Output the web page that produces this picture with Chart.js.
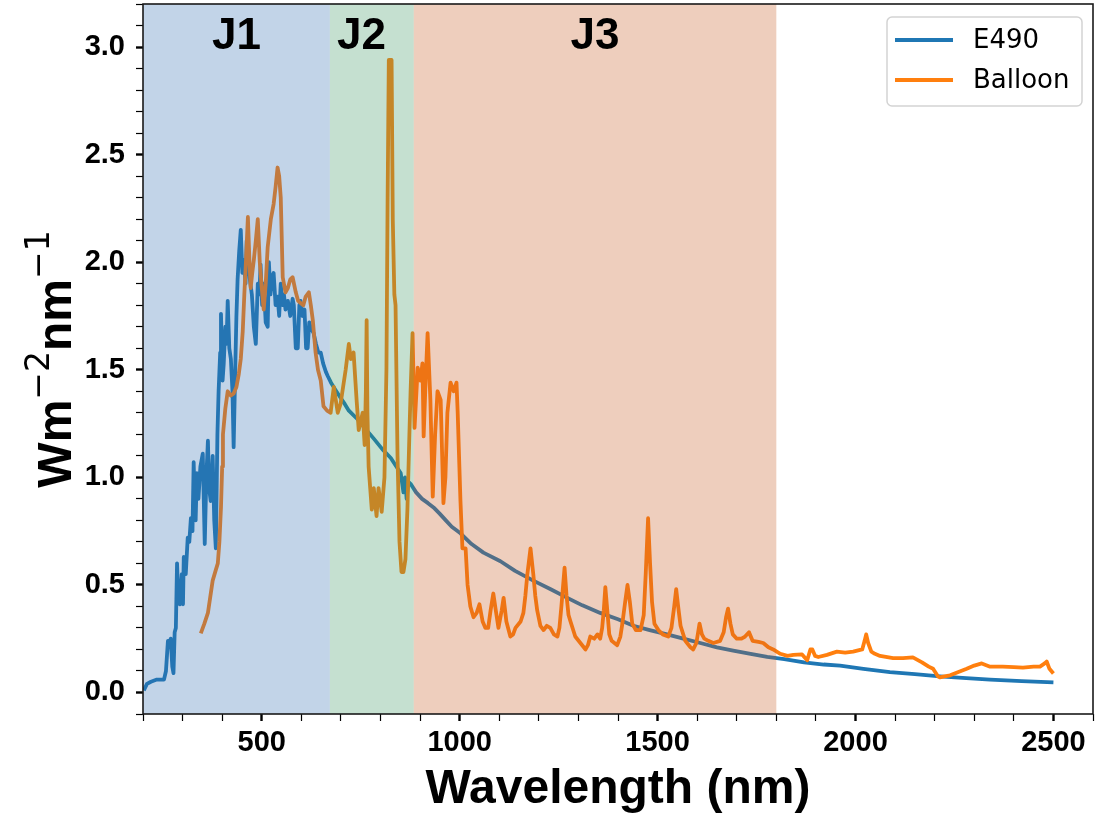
<!DOCTYPE html>
<html>
<head>
<meta charset="utf-8">
<script src="https://cdn.jsdelivr.net/npm/chart.js@4.4.1/dist/chart.umd.min.js"></script>
<style>
  html, body { margin: 0; padding: 0; background: #fff; }
  #wrap { width: 1096px; height: 822px; }
</style>
</head>
<body>
<div id="wrap"><canvas id="spectrum" width="1096" height="822"></canvas></div>
<script>
// values: wavelength in nm, irradiance in W m^-2 nm^-1
const e490Wl = [202,210,220,235,253,258,263,267,270,274,277,280,283,286,289,293,298,301,303,308,313,317,321,325,328,331,333,336,340,345,351,356,360,364,367,371,376,380,384,388,391,395,397,401,404,408,411,414,418,422,426,429,433,436,439,443,447,451,455,459,462,465,470,475,480,485,490,494,497,501,505,510,515,518,522,526,530,535,540,544,548,552,556,560,566,572,578,581,586,591,595,598,603,608,612,616,620,625,631,637,643,649,655,662,667,675,685,699,710,720,742,760,783,805,826,840,851,858,862,866,870,876,890,905,920,934,950,965,980,1002,1030,1060,1103,1140,1186,1230,1272,1310,1355,1400,1439,1480,1524,1565,1608,1650,1691,1735,1777,1820,1870,1920,1961,2020,2087,2150,2213,2280,2340,2420,2500];
const e490Val = [0.01,0.04,0.05,0.06,0.06,0.10,0.24,0.22,0.25,0.12,0.09,0.28,0.30,0.60,0.45,0.41,0.55,0.41,0.63,0.55,0.72,0.70,0.81,0.75,1.07,0.85,0.80,1.02,0.90,1.05,1.11,0.69,1.00,1.17,0.95,0.89,1.10,0.80,0.67,1.20,1.40,1.58,1.76,1.45,1.53,1.70,1.62,1.82,1.60,1.55,1.40,1.14,1.50,1.75,1.92,2.05,2.15,1.95,2.01,1.90,2.10,2.05,1.92,1.85,1.70,1.62,1.90,1.85,1.99,1.80,1.90,1.72,1.70,2.00,1.85,1.93,1.95,1.80,1.84,1.75,1.90,1.80,1.85,1.78,1.82,1.75,1.83,1.80,1.60,1.60,1.80,1.82,1.75,1.78,1.60,1.60,1.72,1.69,1.67,1.62,1.58,1.58,1.53,1.49,1.47,1.44,1.41,1.37,1.34,1.31,1.27,1.23,1.18,1.13,1.09,1.05,1.02,0.93,1.00,0.90,0.98,0.97,0.93,0.90,0.88,0.86,0.83,0.80,0.77,0.74,0.69,0.65,0.61,0.565,0.52,0.48,0.44,0.405,0.37,0.34,0.31,0.29,0.27,0.25,0.23,0.21,0.195,0.18,0.165,0.155,0.14,0.13,0.125,0.11,0.095,0.085,0.075,0.067,0.06,0.053,0.047];

const balloonWl = [346,355,364,376,384,389,393,397,400,402,408,414,422,429,436,442,447,452,456,460,465,469,472,476,480,485,490,495,500,505,510,515,523,530,535,540,544,548,553,560,566,572,578,586,592,598,605,611,619,624,629,636,642,649,656,665,674,682,692,699,712,720,725,732,740,745,755,760,763,765,767,770,778,783,790,795,803,810,815,818,821,828,831,835,838,843,848,853,858,863,868,873,876,881,886,894,901,906,909,914,919,926,932,938,944,952,959,964,969,977,985,992,995,1002,1007,1015,1020,1027,1035,1043,1050,1058,1065,1072,1078,1085,1093,1098,1106,1111,1118,1128,1135,1141,1154,1161,1166,1171,1179,1186,1191,1196,1204,1212,1220,1229,1238,1247,1252,1257,1265,1270,1275,1280,1292,1305,1318,1324,1330,1340,1348,1355,1360,1364,1368,1373,1378,1384,1398,1406,1411,1418,1424,1430,1436,1445,1457,1465,1470,1476,1481,1486,1492,1502,1513,1527,1535,1542,1547,1552,1558,1570,1583,1590,1598,1606,1612,1618,1628,1641,1658,1667,1673,1678,1684,1690,1700,1712,1721,1731,1740,1755,1767,1780,1792,1810,1828,1843,1865,1878,1886,1891,1898,1906,1928,1953,1974,1994,2017,2023,2027,2032,2040,2049,2062,2095,2120,2145,2168,2185,2196,2208,2213,2225,2239,2260,2281,2300,2319,2340,2372,2400,2423,2450,2466,2478,2483,2490,2500];
const balloonVal = [0.275,0.32,0.37,0.52,0.57,0.60,0.70,0.86,1.05,1.20,1.32,1.40,1.38,1.39,1.42,1.48,1.55,1.68,1.85,2.00,2.21,2.00,1.88,1.95,2.01,2.10,2.20,2.00,1.88,1.78,1.90,2.07,2.20,2.27,2.35,2.44,2.40,2.30,1.93,1.86,1.88,1.92,1.93,1.86,1.82,1.81,1.80,1.84,1.86,1.80,1.73,1.58,1.50,1.45,1.33,1.31,1.30,1.42,1.30,1.34,1.50,1.62,1.55,1.58,1.35,1.22,1.30,1.15,1.40,1.73,1.30,1.05,0.85,0.95,0.82,0.95,0.84,1.00,1.50,2.30,2.94,2.94,2.20,1.85,1.80,1.10,0.70,0.56,0.56,0.62,0.85,1.20,1.40,1.67,1.23,1.51,1.45,1.53,1.19,1.45,1.67,1.36,0.91,1.20,1.40,1.36,0.88,1.00,1.30,1.44,1.40,1.44,1.30,0.89,0.67,0.67,0.50,0.40,0.35,0.37,0.41,0.33,0.30,0.30,0.38,0.46,0.36,0.30,0.38,0.44,0.33,0.26,0.27,0.30,0.33,0.37,0.45,0.55,0.67,0.55,0.45,0.38,0.31,0.29,0.31,0.30,0.27,0.26,0.30,0.40,0.58,0.45,0.36,0.33,0.26,0.23,0.20,0.22,0.26,0.25,0.27,0.25,0.30,0.38,0.49,0.38,0.27,0.24,0.22,0.26,0.32,0.42,0.50,0.42,0.32,0.29,0.29,0.36,0.55,0.81,0.60,0.42,0.32,0.29,0.27,0.26,0.30,0.40,0.48,0.40,0.31,0.24,0.21,0.20,0.23,0.32,0.27,0.25,0.24,0.23,0.24,0.28,0.35,0.39,0.32,0.27,0.25,0.25,0.26,0.28,0.24,0.235,0.23,0.21,0.20,0.18,0.17,0.175,0.177,0.15,0.20,0.20,0.17,0.165,0.175,0.19,0.185,0.19,0.20,0.24,0.27,0.23,0.19,0.18,0.17,0.16,0.16,0.163,0.14,0.12,0.11,0.075,0.07,0.075,0.08,0.095,0.11,0.125,0.135,0.12,0.12,0.118,0.116,0.12,0.12,0.135,0.144,0.11,0.088];

// spectral bands (nm)
const bandNames = ['J1', 'J2', 'J3'];
const bandStart = [200, 672, 884];
const bandEnd = [672, 884, 1800];

const xTickLabels = ['500', '1000', '1500', '2000', '2500'];
const yTickLabels = ['0.0', '0.5', '1.0', '1.5', '2.0', '2.5', '3.0'];

const boldFont = "'Liberation Sans', Arial, Helvetica, sans-serif";
const bandFill = ['rgba(52,112,178,0.3)', 'rgba(62,152,98,0.3)', 'rgba(198,92,38,0.3)'];
const bandTextAt = [436, 752, 1342];

function xMajor(v) { return xTickLabels.indexOf(String(Math.round(v))) >= 0; }
function yLabelOf(v) {
  const s = (Math.round(v * 10) / 10).toFixed(1);
  return yTickLabels.indexOf(s) >= 0 ? s : '';
}

const toPoints = (xs, ys) => xs.map((x, i) => ({ x: x, y: ys[i] }));

const decorations = {
  id: 'decorations',
  afterDatasetsDraw(chart) {
    const { ctx, chartArea: a, scales: { x, y } } = chart;
    ctx.save();
    ctx.beginPath();
    ctx.rect(a.left, a.top, a.width, a.height);
    ctx.clip();
    bandNames.forEach((name, i) => {
      const x0 = x.getPixelForValue(bandStart[i]);
      const x1 = x.getPixelForValue(bandEnd[i]);
      ctx.fillStyle = bandFill[i];
      ctx.fillRect(x0, a.top, x1 - x0, a.height);
    });
    ctx.fillStyle = '#000';
    ctx.font = 'bold 44px ' + boldFont;
    ctx.textAlign = 'center';
    ctx.textBaseline = 'middle';
    bandNames.forEach((name, i) => {
      ctx.fillText(name, x.getPixelForValue(bandTextAt[i]), y.getPixelForValue(3.045));
    });
    ctx.restore();
  },
  afterDraw(chart) {
    const { ctx, chartArea: a } = chart;
    ctx.save();
    // frame
    ctx.strokeStyle = '#1a1a1a';
    ctx.lineWidth = 1.6;
    ctx.strokeRect(a.left, a.top, a.width, a.height);

    // legend
    const bx = a.right - 206, by = a.top + 13, bw = 195, bh = 89;
    ctx.beginPath();
    ctx.roundRect(bx, by, bw, bh, 5);
    ctx.fillStyle = 'rgba(255,255,255,0.85)';
    ctx.fill();
    ctx.strokeStyle = '#d3d3d3';
    ctx.lineWidth = 1.5;
    ctx.stroke();
    ctx.font = "26px 'DejaVu Sans', sans-serif";
    ctx.textAlign = 'left';
    ctx.textBaseline = 'middle';
    chart.data.datasets.slice().sort((p, q) => p.legendRank - q.legendRank).forEach((ds, i) => {
      const ly = by + 23 + i * 40;
      ctx.strokeStyle = ds.borderColor;
      ctx.lineWidth = 3.8;
      ctx.beginPath();
      ctx.moveTo(bx + 8, ly);
      ctx.lineTo(bx + 66, ly);
      ctx.stroke();
      ctx.fillStyle = '#000';
      ctx.fillText(ds.label, bx + 86, ly + 1);
    });

    // y axis title with superscripts
    const parts = [
      { t: 'Wm', f: 'bold 48px ' + boldFont, dy: 0 },
      { t: '\u22122', f: "33px 'DejaVu Sans', sans-serif", dy: -22 },
      { t: 'nm', f: 'bold 48px ' + boldFont, dy: 0 },
      { t: '\u22121', f: "33px 'DejaVu Sans', sans-serif", dy: -22 }
    ];
    let total = 0;
    parts.forEach(p => { ctx.font = p.f; p.w = ctx.measureText(p.t).width; total += p.w; });
    ctx.translate(71, (a.top + a.bottom) / 2);
    ctx.rotate(-Math.PI / 2);
    ctx.fillStyle = '#000';
    ctx.textBaseline = 'alphabetic';
    let cx = -total / 2;
    parts.forEach(p => { ctx.font = p.f; ctx.fillText(p.t, cx, p.dy); cx += p.w; });
    ctx.restore();
  }
};

new Chart(document.getElementById('spectrum'), {
  type: 'line',
  data: {
    datasets: [
      { label: 'Balloon', data: toPoints(balloonWl, balloonVal), borderColor: '#ff7f0e', borderWidth: 3.8, order: 1, legendRank: 2 },
      { label: 'E490', data: toPoints(e490Wl, e490Val), borderColor: '#1f77b4', borderWidth: 3.8, order: 2, legendRank: 1 }
    ]
  },
  options: {
    responsive: false,
    animation: false,
    layout: { padding: { top: 4, right: 3, left: 0, bottom: 0 } },
    elements: { point: { radius: 0 }, line: { tension: 0, borderJoinStyle: 'round' } },
    plugins: { legend: { display: false }, tooltip: { enabled: false } },
    scales: {
      x: {
        type: 'linear',
        min: 200,
        max: 2600,
        afterFit: s => { s.height = 108; s.paddingLeft = 0; s.paddingRight = 0; },
        border: { display: false },
        grid: {
          drawOnChartArea: false,
          tickLength: 7,
          tickColor: '#000',
          tickWidth: c => xMajor(c.tick.value) ? 2.4 : 1.2
        },
        ticks: {
          stepSize: 100,
          autoSkip: false,
          maxRotation: 0,
          padding: 5,
          color: '#000',
          font: { family: boldFont, size: 29, weight: 'bold' },
          callback: v => xMajor(v) ? String(Math.round(v)) : ''
        },
        title: {
          display: true,
          text: 'Wavelength (nm)',
          color: '#000',
          font: { family: boldFont, size: 48, weight: 'bold' },
          padding: { top: 0, bottom: 3 }
        }
      },
      y: {
        min: -0.1,
        max: 3.2,
        afterFit: s => { s.width = 143; s.paddingTop = 0; s.paddingBottom = 0; },
        border: { display: false },
        grid: {
          drawOnChartArea: false,
          tickLength: 7,
          tickColor: '#000',
          tickWidth: c => yLabelOf(c.tick.value) ? 2.4 : 1.2
        },
        ticks: {
          stepSize: 0.1,
          autoSkip: false,
          padding: 11,
          color: '#000',
          font: { family: boldFont, size: 29, weight: 'bold' },
          callback: v => yLabelOf(v)
        }
      }
    }
  },
  plugins: [decorations]
});
</script>
</body>
</html>
